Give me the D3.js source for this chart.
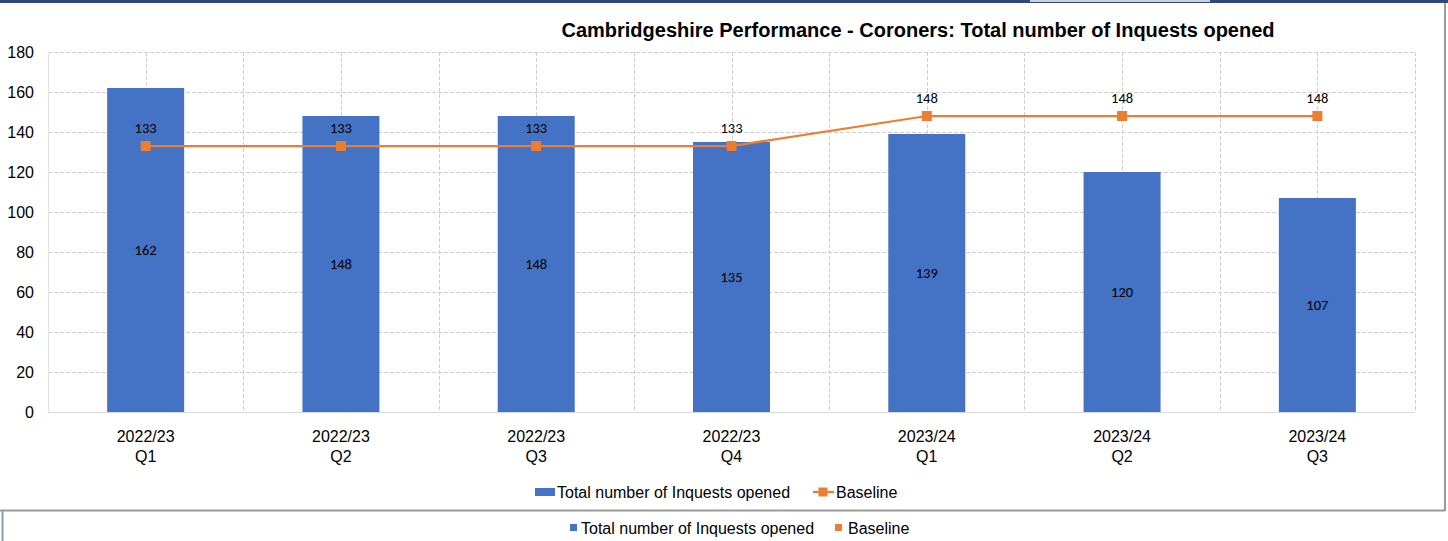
<!DOCTYPE html>
<html>
<head>
<meta charset="utf-8">
<script src="https://cdn.jsdelivr.net/npm/d3@7"></script>
<style>
  html, body { margin: 0; padding: 0; background: #fff; }
  svg { display: block; }
</style>
</head>
<body>
<svg id="chart" width="1448" height="541"></svg>
<script>
// Quarterly periods (two-line labels)
const periods = ["2022/23|Q1", "2022/23|Q2", "2022/23|Q3", "2022/23|Q4", "2023/24|Q1", "2023/24|Q2", "2023/24|Q3"];
// Total number of inquests opened per quarter
const inquests = [162, 148, 148, 135, 139, 120, 107];
// Baseline per quarter
const baseline = [133, 133, 133, 133, 148, 148, 148];
// Y axis ticks
const yTicks = [0, 20, 40, 60, 80, 100, 120, 140, 160, 180];

(function draw() {
  const blue = "#4472C4";
  const orange = "#ED7D31";
  const font = "Liberation Sans, Arial, sans-serif";
  const labelFont = "Carlito, Lato, 'Open Sans', sans-serif";

  const svg = d3.select("#chart");
  const W = 1448, H = 541;

  // Plot region
  const pL = 48, pR = 1415, pT = 52, pB = 412;

  const x = d3.scaleBand().domain(periods).range([pL, pR]).paddingInner(0).paddingOuter(0);
  const y = d3.scaleLinear().domain([0, 180]).range([pB, pT]);
  const cx = p => x(p) + x.bandwidth() / 2;

  // Frame details: dark top strip, grey chart border
  svg.append("rect").attr("x", 0).attr("y", 0).attr("width", W).attr("height", 3).attr("fill", "#2f4676");
  svg.append("rect").attr("x", 1030).attr("y", 0).attr("width", 180).attr("height", 2).attr("fill", "#c9cfdc");
  svg.append("rect").attr("x", 0).attr("y", 3).attr("width", W).attr("height", 7).attr("fill", "#fffdf6");
  svg.append("line").attr("x1", 0).attr("x2", 1445).attr("y1", 510.5).attr("y2", 510.5)
    .attr("stroke", "#9a9a9a").attr("stroke-width", 2);
  svg.append("line").attr("x1", 1445).attr("x2", 1445).attr("y1", 3).attr("y2", 511)
    .attr("stroke", "#9a9a9a").attr("stroke-width", 2);
  svg.append("line").attr("x1", 2.5).attr("x2", 2.5).attr("y1", 511).attr("y2", H)
    .attr("stroke", "#8a9bb8").attr("stroke-width", 2);

  // Title
  svg.append("text")
    .attr("x", 918).attr("y", 37)
    .attr("text-anchor", "middle")
    .attr("font-family", font).attr("font-weight", "bold").attr("font-size", 20)
    .attr("fill", "#000")
    .text("Cambridgeshire Performance - Coroners: Total number of Inquests opened");

  // Horizontal gridlines
  const grid = svg.append("g");
  grid.selectAll("line.h").data(yTicks.filter(d => d > 0)).join("line")
    .attr("x1", pL).attr("x2", pR)
    .attr("y1", d => Math.round(y(d)) + 0.5).attr("y2", d => Math.round(y(d)) + 0.5)
    .attr("stroke", "#cfcfcf").attr("stroke-dasharray", "4,2");
  // Vertical gridlines at category centres and boundaries
  const vLines = [];
  periods.forEach(p => { vLines.push(cx(p)); vLines.push(x(p) + x.bandwidth()); });
  grid.selectAll("line.v").data(vLines).join("line")
    .attr("x1", d => Math.round(d) + 0.5).attr("x2", d => Math.round(d) + 0.5)
    .attr("y1", pT).attr("y2", pB)
    .attr("stroke", "#cfcfcf").attr("stroke-dasharray", "4,2");
  // Left edge and category axis line
  svg.append("line").attr("x1", pL + 0.5).attr("x2", pL + 0.5).attr("y1", pT).attr("y2", pB)
    .attr("stroke", "#e2e2e2");
  svg.append("line").attr("x1", pL).attr("x2", pR).attr("y1", pB + 0.5).attr("y2", pB + 0.5)
    .attr("stroke", "#d9d9d9");

  // Y axis labels
  const yAxis = d3.axisLeft(y).tickValues(yTicks).tickSize(0).tickPadding(14);
  const ya = svg.append("g").attr("transform", `translate(${pL},0)`).call(yAxis);
  ya.select(".domain").remove();
  ya.selectAll("text").attr("font-family", font).attr("font-size", 16).attr("fill", "#000");

  // X axis labels (two lines)
  const xl = svg.append("g");
  periods.forEach(p => {
    const [a, b] = p.split("|");
    const t = xl.append("text").attr("text-anchor", "middle")
      .attr("font-family", font).attr("font-size", 16).attr("fill", "#000");
    t.append("tspan").attr("x", cx(p)).attr("y", 442).text(a);
    t.append("tspan").attr("x", cx(p)).attr("y", 462).text(b);
  });

  // Bars
  const barW = 77;
  svg.append("g").selectAll("rect").data(inquests).join("rect")
    .attr("x", (d, i) => cx(periods[i]) - barW / 2)
    .attr("width", barW)
    .attr("y", d => y(d))
    .attr("height", d => y(0) - y(d))
    .attr("fill", blue);

  // Bar value labels (centred in bar)
  svg.append("g").selectAll("text").data(inquests).join("text")
    .attr("x", (d, i) => cx(periods[i]))
    .attr("y", d => (y(d) + y(0)) / 2 + 5)
    .attr("text-anchor", "middle")
    .attr("font-family", labelFont).attr("font-size", 14.5).attr("fill", "#000")
    .text(d => d);

  // Baseline line with square markers
  const line = d3.line()
    .x((d, i) => cx(periods[i]))
    .y(d => y(d));
  svg.append("path").datum(baseline)
    .attr("d", line).attr("fill", "none").attr("stroke", orange).attr("stroke-width", 2.25);
  svg.append("g").selectAll("rect").data(baseline).join("rect")
    .attr("x", (d, i) => cx(periods[i]) - 5)
    .attr("y", d => y(d) - 5)
    .attr("width", 10).attr("height", 10)
    .attr("fill", orange);
  svg.append("g").selectAll("text").data(baseline).join("text")
    .attr("x", (d, i) => cx(periods[i]))
    .attr("y", d => y(d) - 13)
    .attr("text-anchor", "middle")
    .attr("font-family", labelFont).attr("font-size", 14.5).attr("fill", "#000")
    .text(d => d);

  // Legend inside chart
  const lg = svg.append("g");
  lg.append("rect").attr("x", 535).attr("y", 488).attr("width", 20).attr("height", 8).attr("fill", blue);
  lg.append("text").attr("x", 557).attr("y", 498).attr("font-family", font).attr("font-size", 16)
    .attr("fill", "#000").text("Total number of Inquests opened");
  lg.append("line").attr("x1", 813).attr("x2", 834).attr("y1", 492).attr("y2", 492)
    .attr("stroke", orange).attr("stroke-width", 2.25);
  lg.append("rect").attr("x", 818.5).attr("y", 487.5).attr("width", 9).attr("height", 9).attr("fill", orange);
  lg.append("text").attr("x", 836).attr("y", 498).attr("font-family", font).attr("font-size", 16)
    .attr("fill", "#000").text("Baseline");

  // Secondary legend below the frame
  const lg2 = svg.append("g");
  lg2.append("rect").attr("x", 570).attr("y", 524).attr("width", 7).attr("height", 7).attr("fill", blue);
  lg2.append("text").attr("x", 581).attr("y", 534).attr("font-family", font).attr("font-size", 16)
    .attr("fill", "#000").text("Total number of Inquests opened");
  lg2.append("rect").attr("x", 835).attr("y", 524).attr("width", 7).attr("height", 7).attr("fill", orange);
  lg2.append("text").attr("x", 848).attr("y", 534).attr("font-family", font).attr("font-size", 16)
    .attr("fill", "#000").text("Baseline");
})();
</script>
</body>
</html>
